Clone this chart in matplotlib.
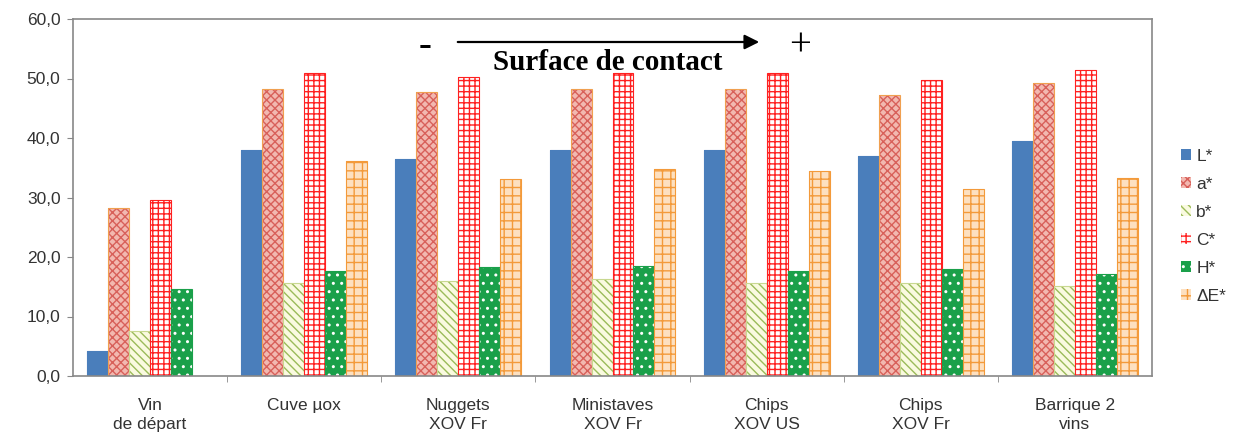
import numpy as np
import matplotlib.pyplot as plt
from matplotlib.ticker import FuncFormatter, FixedLocator

plt.rcParams['font.family'] = ['Liberation Sans', 'DejaVu Sans']
plt.rcParams['hatch.linewidth'] = 1.0

groups = ["Vin\nde départ", "Cuve µox", "Nuggets\nXOV Fr", "Ministaves\nXOV Fr",
          "Chips\nXOV US", "Chips\nXOV Fr", "Barrique 2\nvins"]
series = ["L*", "a*", "b*", "C*", "H*", "ΔE*"]
L_star = [4.2, 37.9, 36.5, 37.9, 37.9, 37.0, 39.5]
a_star = [28.3, 48.3, 47.8, 48.3, 48.3, 47.2, 49.2]
b_star = [7.5, 15.6, 15.9, 16.3, 15.6, 15.6, 15.2]
C_star = [29.6, 50.9, 50.3, 50.9, 50.9, 49.7, 51.4]
H_star = [14.7, 17.7, 18.3, 18.5, 17.7, 17.9, 17.1]
dE_star = [0.0, 36.1, 33.1, 34.8, 34.5, 31.4, 33.3]
values = [L_star, a_star, b_star, C_star, H_star, dE_star]

# (face, hatch colour, hatch, edge)
styles = [
    ("#4a7ebb", "#4a7ebb", None, "#4a7ebb"),
    ("#f2b8b0", "#d8605a", "xxxx", "#f0a050"),
    ("#fafae0", "#9bbb59", "\\\\\\\\", "#c8d890"),
    ("white", "#ff2020", "+++", "#ff2020"),
    ("#1aa04a", "white", "..", "#1aa04a"),
    ("#fde0c0", "#f39a3a", "++", "#f39a3a"),
]

fig = plt.figure(figsize=(12.34, 4.41), dpi=100)
ax = fig.add_axes([73 / 1234, 65 / 441, (1152 - 73) / 1234, (376 - 19) / 441])

x = np.arange(len(groups))
w = 0.136
for i, (name, vals) in enumerate(zip(series, values)):
    face, hcol, hatch, edge = styles[i]
    off = (i - 2.5) * w
    bars = ax.bar(x + off, vals, w, label=name, color=face, edgecolor=hcol,
                  hatch=hatch, linewidth=0)
    for b in bars:
        if b.get_height() > 0:
            ax.add_patch(plt.Rectangle(b.get_xy(), b.get_width(), b.get_height(),
                                       fill=False, edgecolor=edge, linewidth=0.8))

ax.set_xlim(-0.5, len(groups) - 0.5)
ax.set_ylim(0, 60)
ax.set_yticks(np.arange(0, 61, 10))
ax.yaxis.set_major_formatter(FuncFormatter(lambda v, p: f"{v:.1f}".replace(".", ",")))
ax.set_xticks(x)
ax.set_xticklabels(groups, fontsize=12.5, color='#333333', linespacing=1.3)
ax.tick_params(axis='x', length=0, pad=16)
ax.xaxis.set_minor_locator(FixedLocator(np.arange(0.5, len(groups) - 1, 1)))
ax.tick_params(axis='x', which='minor', length=4, color='#888888')
ax.tick_params(axis='y', labelsize=12.5, color='#888888', length=4, labelcolor='#333333', pad=5)
for s in ax.spines.values():
    s.set_color('#888888')
    s.set_linewidth(1.2)

ax.legend(loc='center left', bbox_to_anchor=(1.012, 0.42), frameon=False, fontsize=12.5,
          handlelength=0.6, handleheight=0.6, handletextpad=0.3, labelspacing=0.75,
          labelcolor='#333333')

# Surface de contact annotation
ax.annotate("", xy=(762 / 1234, 1 - 42 / 441), xytext=(455 / 1234, 1 - 42 / 441),
            xycoords='figure fraction',
            arrowprops=dict(arrowstyle='-|>', color='black', lw=1.6, mutation_scale=22))
fig.text(608 / 1234, 1 - 62 / 441, "Surface de contact", ha='center', va='center',
         family='Liberation Serif', fontweight='bold', fontsize=21)
fig.text(425 / 1234, 1 - 46 / 441, "-", ha='center', va='center',
         family='Liberation Serif', fontweight='bold', fontsize=28)
fig.text(800 / 1234, 1 - 46 / 441, "+", ha='center', va='center',
         family='Liberation Serif', fontsize=28)

fig.savefig("out.png", dpi=100)
